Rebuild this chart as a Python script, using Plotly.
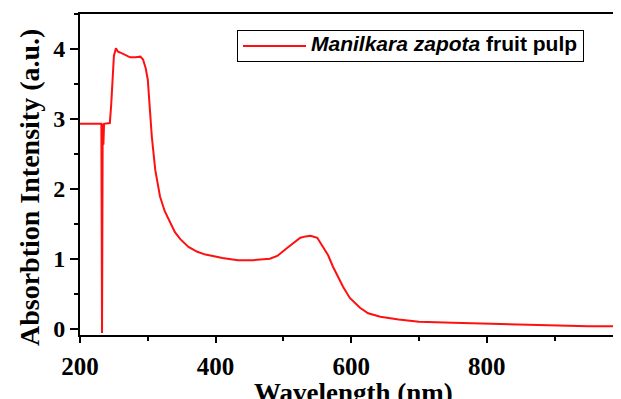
import plotly.graph_objects as go

wavelength = [200, 230, 231.5, 232.5, 233.5, 234.5, 235.5, 244, 246, 250, 253, 256, 259, 265, 274,
              282, 289, 293, 297, 300, 303, 306, 311, 318, 325, 333, 340, 348, 360, 373, 385, 396,
              410, 433, 455, 480, 491, 505, 515, 525, 533, 540, 550, 559, 566, 573, 580, 588, 598,
              606, 613, 625, 643, 670, 700, 750, 800, 850, 900, 950, 1000]
absorbance = [2.93, 2.93, 2.93, -0.06, 2.93, 2.63, 2.93, 2.94, 3.2, 3.9, 4.01, 3.96, 3.95, 3.92, 3.88,
              3.88, 3.89, 3.85, 3.72, 3.56, 3.17, 2.74, 2.27, 1.89, 1.68, 1.51, 1.38, 1.28, 1.17, 1.10,
              1.06, 1.04, 1.01, 0.98, 0.98, 1.0, 1.04, 1.15, 1.23, 1.30, 1.32, 1.33, 1.30, 1.17, 1.05,
              0.89, 0.75, 0.6, 0.44, 0.36, 0.30, 0.22, 0.17, 0.13, 0.10, 0.085, 0.07, 0.06, 0.045,
              0.035, 0.035]
x_ticks = [200, 400, 600, 800]
y_ticks = [0, 1, 2, 3, 4]
series_name = '<span style="font-size:21px"><b><i>Manilkara zapota</i> fruit pulp</b></span>'
x_title = "<b>Wavelength (nm)</b>"
y_title = "<b>Absorbtion Intensity (a.u.)</b>"

serif = "Liberation Serif, Times New Roman, serif"

# page has an 8px body margin; plot area spans x 80..621, y 14..335 on screen
fig = go.Figure()
fig.add_trace(go.Scatter(x=wavelength, y=absorbance, mode="lines", name=series_name,
                         line=dict(color="#ff1010", width=2)))

fig.update_layout(
    width=613, height=391,
    margin=dict(l=72, r=0, t=6, b=64, autoexpand=False),
    paper_bgcolor="white", plot_bgcolor="white",
    showlegend=True,
    legend=dict(x=(237 - 80) / 541, y=(335 - 30) / 321, xanchor="left", yanchor="top",
                bordercolor="black", borderwidth=1, bgcolor="white",
                font=dict(family="Liberation Sans, Arial, sans-serif", size=13, color="black"),
                itemwidth=63, tracegroupgap=0),
    annotations=[
        dict(text=x_title, xref="paper", yref="paper", x=(353 - 80) / 541, y=(335 - 376) / 321,
             xanchor="center", yanchor="top", showarrow=False,
             font=dict(family=serif, size=27, color="black")),
        dict(text=y_title, xref="paper", yref="paper", x=(29 - 80) / 541, y=(335 - 188) / 321,
             xanchor="center", yanchor="middle", textangle=-90, showarrow=False,
             font=dict(family=serif, size=28, color="black")),
    ],
)
fig.update_xaxes(
    range=[200, 998], tickvals=x_ticks, ticktext=[f"<b>{v}</b>" for v in x_ticks],
    automargin=False,
    showline=True, linecolor="black", linewidth=2, mirror=True,
    ticks="outside", ticklen=6, tickwidth=2, tickcolor="black",
    minor=dict(ticks="outside", dtick=100, tick0=200, ticklen=4, tickwidth=2, tickcolor="black"),
    showgrid=False, zeroline=False, ticklabelstandoff=2,
    tickfont=dict(family=serif, size=25, color="black"),
)
fig.update_yaxes(
    range=[-0.09, 4.5], tickvals=y_ticks, ticktext=[f"<b>{v}</b>" for v in y_ticks],
    automargin=False,
    showline=True, linecolor="black", linewidth=2, mirror=False,
    ticks="outside", ticklen=8, tickwidth=2, tickcolor="black",
    minor=dict(ticks="outside", dtick=0.5, tick0=0, ticklen=4, tickwidth=2, tickcolor="black"),
    showgrid=False, zeroline=False,
    tickfont=dict(family=serif, size=24, color="black"),
)

fig.write_html("out.html")
